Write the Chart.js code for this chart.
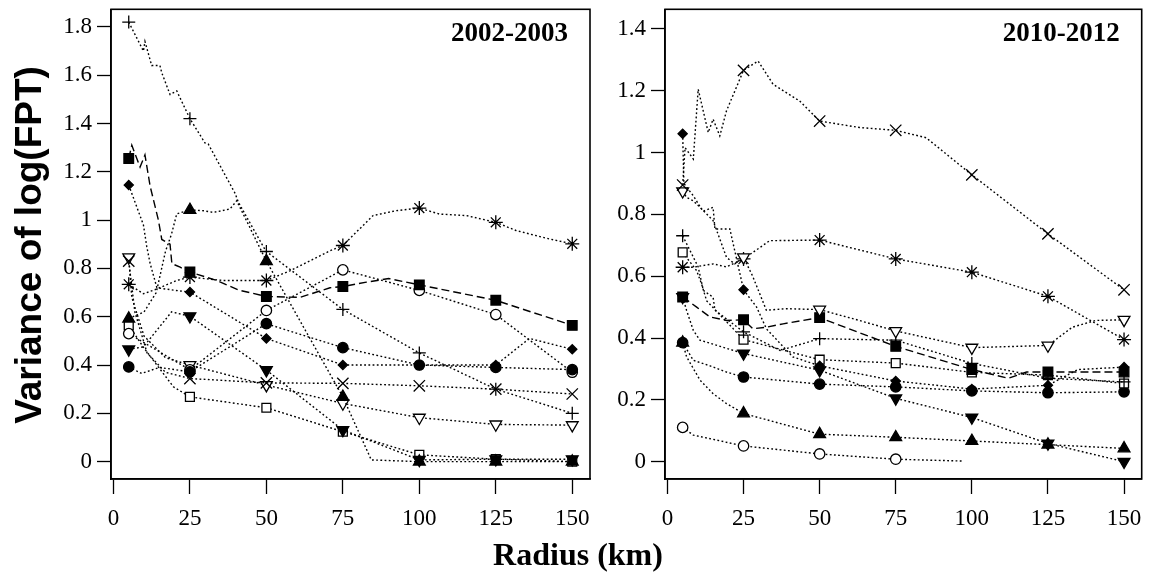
<!DOCTYPE html>
<html>
<head>
<meta charset="utf-8">
<script src="https://cdn.jsdelivr.net/npm/chart.js@4.4.1/dist/chart.umd.min.js"></script>
<style>
  html, body { margin: 0; padding: 0; background: #fff; }
  #wrap { position: relative; width: 1151px; height: 577px; overflow: hidden; background: #fff; }
  .panel { position: absolute; top: 0; height: 577px; }
  #pA { left: 0; width: 600px; }
  #pB { left: 600px; width: 551px; }
  #ytitle { position: absolute; left: -172px; top: 225px; width: 400px; height: 40px; line-height: 40px;
            text-align: center; transform: rotate(-90deg); white-space: nowrap; color: #000;
            font: bold 37px "Liberation Sans", Arial, sans-serif; }
  #xtitle { position: absolute; left: 428px; top: 536px; width: 300px; height: 32px; line-height: 32px;
            text-align: center; white-space: nowrap; color: #000;
            font: bold 32px "Liberation Serif", "Times New Roman", serif; }
</style>
</head>
<body>
<div id="wrap">
  <div class="panel" id="pA"><canvas id="cA"></canvas></div>
  <div class="panel" id="pB"><canvas id="cB"></canvas></div>
  <div id="ytitle">Variance of log(FPT)</div>
  <div id="xtitle">Radius (km)</div>
</div>
<script>
// ---------------- DATA ----------------
const radii = [5, 25, 50, 75, 100, 125, 150];          // radii carrying a marker
const xTicks = [0, 25, 50, 75, 100, 125, 150];
const yTicksLeft = [0, 0.2, 0.4, 0.6, 0.8, 1, 1.2, 1.4, 1.6, 1.8];
const yTicksRight = [0, 0.2, 0.4, 0.6, 0.8, 1, 1.2, 1.4];
const titleLeft = "2002-2003";
const titleRight = "2010-2012";

// Left panel (2002-2003): values at the marker radii
const L_plus = [1.82, 1.42, 0.87, 0.63, 0.45, 0.30, 0.20];
const L_sq   = [1.255, 0.785, 0.684, 0.725, 0.732, 0.668, 0.564];
const L_dia  = [1.145, 0.702, 0.51, 0.40, 0.40, 0.40, 0.465];
const L_cir  = [0.392, 0.372, 0.571, 0.472, 0.40, 0.39, 0.381];
const L_oc   = [0.53, 0.38, 0.626, 0.794, 0.709, 0.609, 0.37];
const L_tri  = [0.592, 1.042, 0.83, 0.268, 0.0, 0.0, 0.0];
const L_dtri = [0.465, 0.602, 0.379, 0.131, 0.007, 0.01, 0.01];
const L_sqo  = [0.564, 0.268, 0.223, 0.124, 0.028, 0.01, 0.0];
const L_ast  = [0.734, 0.764, 0.75, 0.895, 1.05, 0.991, 0.902];
const L_x    = [0.83, 0.344, 0.326, 0.324, 0.314, 0.30, 0.28];
const L_tro  = [0.846, 0.40, 0.317, 0.241, 0.182, 0.154, 0.151];

// Left panel: extra line vertices read between markers [radius, value]
const L_plus_path = [[9.8,1.70],[10.3,1.74],[12.5,1.64],[15.2,1.64],[15.8,1.61],[18.5,1.52],[20.7,1.535],[29.9,1.32],[31,1.315],[39.8,1.11],[40.8,1.075],[49,0.89]];
const L_sq_path   = [[6,1.31],[8.7,1.22],[10.3,1.27],[12,1.14],[14.7,1.0],[15.8,0.92],[18.5,0.90],[19.1,0.82],[21.8,0.805],[33.8,0.75],[41,0.71],[61,0.68],[70.8,0.72],[82.7,0.743],[90,0.758]];
const L_dia_path  = [[9.8,0.98],[10.9,0.89],[12,0.82],[14.2,0.72],[19.6,0.71],[136,0.51]];
const L_cir_path  = [[9.2,0.365],[15,0.39]];
const L_oc_path   = [];
const L_tri_path  = [[10,0.62],[14,0.70],[17,0.87],[19,0.943],[20.7,1.026],[29.4,1.039],[32.7,1.032],[38.1,1.046],[40.3,1.08],[84.3,0.007]];
const L_dtri_path = [[9.8,0.475],[19,0.62]];
const L_sqo_path  = [[10,0.47],[19.6,0.31]];
const L_ast_path  = [[9.8,0.695],[14.2,0.715],[20.7,0.75],[35.9,0.75],[57.7,0.79],[70.8,0.873],[84.9,1.019],[92.4,1.039],[106.6,1.025],[115.3,1.019],[131.6,0.957],[142.5,0.922]];
const L_x_path    = [[7,0.62],[11,0.45],[17,0.37]];
const L_tro_path  = [[6,0.68],[10,0.52],[17,0.43]];

// Right panel (2010-2012): values at the marker radii
const R_x    = [0.895, 1.266, 1.102, 1.072, 0.928, 0.737, 0.556];
const R_dia  = [1.061, 0.556, 0.31, 0.261, 0.235, 0.247, 0.306];
const R_tro  = [0.875, 0.661, 0.492, 0.423, 0.369, 0.376, 0.459];
const R_ast  = [0.629, 0.656, 0.717, 0.656, 0.613, 0.535, 0.395];
const R_plus = [0.731, 0.42, 0.398, 0.393, 0.318, 0.27, 0.258];
const R_sq   = [0.533, 0.459, 0.466, 0.373, 0.298, 0.29, 0.29];
const R_sqo  = [0.677, 0.395, 0.33, 0.319, 0.289, 0.28, 0.253];
const R_dtri = [0.533, 0.35, 0.296, 0.205, 0.143, 0.059, 0.0];
const R_cir  = [0.385, 0.274, 0.251, 0.242, 0.229, 0.223, 0.226];
const R_tri  = [0.385, 0.156, 0.089, 0.079, 0.067, 0.055, 0.043];
const R_oc   = [0.111, 0.051, 0.025, 0.008, null, null, null];

// Right panel: extra line vertices [radius, value]
const R_x_path    = [[5.8,1.016],[8.5,0.979],[10.1,1.205],[13.4,1.065],[15,1.108],[17.2,1.054],[19.4,1.135],[29.8,1.296],[34.7,1.221],[43.4,1.167],[63.1,1.081],[85,1.048]];
const R_dia_path  = [[5.4,0.90],[8.5,0.86],[11.7,0.81],[15,0.823],[15.6,0.753],[20.5,0.753],[29.3,0.50],[32.5,0.43],[41.2,0.339],[134.8,0.298]];
const R_tro_path  = [[6.3,0.855],[8.5,0.844],[11.8,0.812],[15,0.78],[19.4,0.661],[22.1,0.64],[28,0.60],[32.5,0.49],[39,0.495],[63,0.457],[133,0.435],[140.7,0.457]];
const R_ast_path  = [[8.4,0.629],[15,0.64],[19.4,0.63],[33.6,0.715]];
const R_plus_path = [[10.1,0.63],[11.8,0.554],[15,0.532],[15.6,0.49],[37,0.36]];
const R_sq_path   = [[9.6,0.50],[14,0.468],[19.4,0.457],[28.1,0.43],[32.5,0.435],[38,0.446],[44.5,0.457],[112,0.27],[118,0.29]];
const R_sqo_path  = [[9.6,0.618],[11.2,0.575],[12.9,0.52]];
const R_dtri_path = [[6.3,0.489],[8.5,0.425],[10.7,0.393]];
const R_cir_path  = [[8.5,0.328],[14,0.31],[19.4,0.29]];
const R_tri_path  = [[6.3,0.339],[10.7,0.264],[15,0.22],[19.4,0.188]];
const R_oc_path   = [[8.5,0.086],[97,0.002]];

// ---------------- STYLES ----------------
const DOT = [1.8, 2.4];
const DASH = [8, 4];
const MK = {
  plus: { pointStyle: 'cross', r: 6.5, fill: '#000' },
  cross:{ pointStyle: 'crossRot', r: 8, fill: '#000' },
  star: { pointStyle: 'star', r: 7, fill: '#000' },
  sq:   { pointStyle: 'rect', r: 6.8, fill: '#000' },
  sqo:  { pointStyle: 'rect', r: 6.3, fill: '#fff' },
  cir:  { pointStyle: 'circle', r: 5.2, fill: '#000' },
  cirO: { pointStyle: 'circle', r: 5.2, fill: '#fff' },
  tri:  { pointStyle: 'triangle', r: 6.8, fill: '#000' },
  dtri: { pointStyle: 'triangle', rot: 180, r: 6.8, fill: '#000' },
  dtriO:{ pointStyle: 'triangle', rot: 180, r: 6.8, fill: '#fff' },
  dia:  { pointStyle: 'rectRot', r: 4.6, fill: '#000' }
};

function build(values, path) {
  const pts = [];
  values.forEach((v, i) => { if (v !== null) pts.push({ x: radii[i], y: v, m: true }); });
  path.forEach(p => pts.push({ x: p[0], y: p[1], m: false }));
  pts.sort((a, b) => a.x - b.x);
  return pts;
}

function ds(values, path, mk, dash) {
  const s = MK[mk];
  return {
    data: build(values, path),
    borderColor: '#000',
    borderWidth: 1.4,
    borderDash: dash,
    borderCapStyle: 'butt',
    tension: 0,
    fill: false,
    pointStyle: s.pointStyle,
    pointRotation: s.rot || 0,
    pointRadius: ctx => (ctx.raw && ctx.raw.m) ? s.r : 0,
    pointBackgroundColor: s.fill,
    pointBorderColor: '#000',
    pointBorderWidth: 1.3
  };
}

const framePlugin = {
  id: 'frame',
  afterDraw(chart, args, opts) {
    const { ctx, chartArea: a } = chart;
    ctx.save();
    ctx.setLineDash([]);
    ctx.strokeStyle = '#000';
    ctx.lineWidth = 1.6;
    ctx.strokeRect(a.left, a.top, a.right - a.left, a.bottom - a.top);
    ctx.font = 'bold 27px "Liberation Serif", "Times New Roman", serif';
    ctx.fillStyle = '#000';
    ctx.textAlign = 'right';
    ctx.textBaseline = 'middle';
    ctx.fillText(opts.text, a.right - 22, a.top + 25);
    ctx.restore();
  }
};

const tickFont = { family: '"Liberation Serif", "Times New Roman", serif', size: 23 };

function makeChart(id, datasets, yMin, yMax, yTicks, yWidth, padRight, title) {
  return new Chart(document.getElementById(id), {
    type: 'line',
    data: { datasets },
    plugins: [framePlugin],
    options: {
      responsive: true,
      maintainAspectRatio: false,
      animation: false,
      events: [],
      layout: { padding: { left: 0, right: padRight, top: 8, bottom: 0 } },
      plugins: { legend: { display: false }, tooltip: { enabled: false }, frame: { text: title } },
      scales: {
        x: {
          type: 'linear', min: -0.8, max: 155.8,
          afterBuildTicks: ax => { ax.ticks = xTicks.map(v => ({ value: v })); },
          afterFit: ax => { ax.height = 98; ax.paddingLeft = 0; ax.paddingRight = 0; },
          ticks: { font: tickFont, color: '#000', padding: 11, maxRotation: 0, autoSkip: false,
                   callback: v => String(v) },
          grid: { drawOnChartArea: false, drawTicks: true, tickLength: 15, tickColor: '#000', tickWidth: 1.3 },
          border: { display: true, color: '#000', width: 1.6 }
        },
        y: {
          type: 'linear', min: yMin, max: yMax,
          afterBuildTicks: ax => { ax.ticks = yTicks.map(v => ({ value: v })); },
          afterFit: ax => { ax.width = yWidth; ax.paddingTop = 0; ax.paddingBottom = 0; },
          ticks: { font: tickFont, color: '#000', padding: 5, autoSkip: false,
                   callback: v => String(Math.round(v * 10) / 10) },
          grid: { drawOnChartArea: false, drawTicks: true, tickLength: 14, tickColor: '#000', tickWidth: 1.3 },
          border: { display: true, color: '#000', width: 1.6 }
        }
      }
    }
  });
}

const leftSets = [
  ds(L_plus, L_plus_path, 'plus', DOT),
  ds(L_sq, L_sq_path, 'sq', DASH),
  ds(L_dia, L_dia_path, 'dia', DOT),
  ds(L_cir, L_cir_path, 'cir', DOT),
  ds(L_oc, L_oc_path, 'cirO', DOT),
  ds(L_tri, L_tri_path, 'tri', DOT),
  ds(L_dtri, L_dtri_path, 'dtri', DOT),
  ds(L_sqo, L_sqo_path, 'sqo', DOT),
  ds(L_ast, L_ast_path, 'star', DOT),
  ds(L_x, L_x_path, 'cross', DOT),
  ds(L_tro, L_tro_path, 'dtriO', DOT)
];

const rightSets = [
  ds(R_x, R_x_path, 'cross', DOT),
  ds(R_dia, R_dia_path, 'dia', DOT),
  ds(R_tro, R_tro_path, 'dtriO', DOT),
  ds(R_ast, R_ast_path, 'star', DOT),
  ds(R_plus, R_plus_path, 'plus', DOT),
  ds(R_sq, R_sq_path, 'sq', DASH),
  ds(R_sqo, R_sqo_path, 'sqo', DOT),
  ds(R_dtri, R_dtri_path, 'dtri', DOT),
  ds(R_cir, R_cir_path, 'cir', DOT),
  ds(R_tri, R_tri_path, 'tri', DOT),
  ds(R_oc, R_oc_path, 'cirO', DOT)
];

makeChart('cA', leftSets, -0.072, 1.873, yTicksLeft, 111, 10, titleLeft);
makeChart('cB', rightSets, -0.056, 1.4635, yTicksRight, 65, 8, titleRight);
</script>
</body>
</html>
